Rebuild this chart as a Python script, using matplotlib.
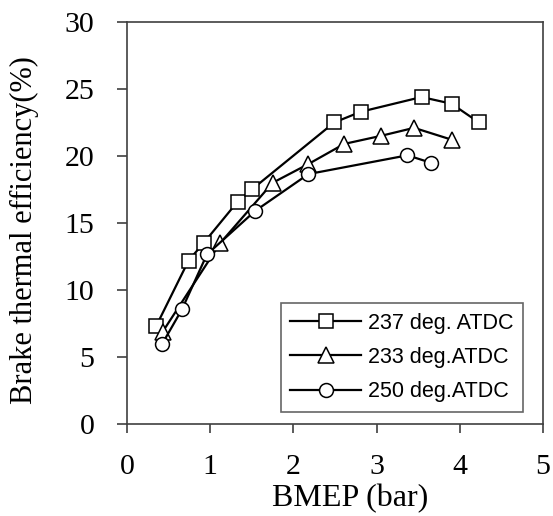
import matplotlib
matplotlib.use("Agg")
import matplotlib.pyplot as plt

# Data
x_237 = [0.35, 0.74, 0.92, 1.33, 1.50, 2.49, 2.81, 3.54, 3.90, 4.23]
y_237 = [7.3, 12.2, 13.5, 16.6, 17.5, 22.5, 23.3, 24.4, 23.9, 22.5]

x_233 = [0.43, 1.12, 1.75, 2.18, 2.61, 3.05, 3.45, 3.91]
y_233 = [6.9, 13.5, 18.0, 19.4, 20.9, 21.5, 22.1, 21.2]

x_250 = [0.42, 0.66, 0.96, 1.54, 2.18, 3.37, 3.65]
y_250 = [5.95, 8.55, 12.65, 15.9, 18.65, 20.05, 19.5]

labels = ["237 deg. ATDC", "233 deg.ATDC", "250 deg.ATDC"]
x_ticks = [0, 1, 2, 3, 4, 5]
y_ticks = [0, 5, 10, 15, 20, 25, 30]

fig = plt.figure(figsize=(5.53, 5.16), dpi=100)
ax = fig.add_axes([0.2297, 0.1783, 0.7523, 0.7791])

serif = ["Liberation Serif", "DejaVu Serif"]
sans = ["Liberation Sans", "DejaVu Sans"]

common = dict(color="black", lw=1.6, markerfacecolor="white",
              markeredgecolor="black", markeredgewidth=1.1)
ax.plot(x_237, y_237, marker="s", markersize=10, label=labels[0], **common)
ax.plot(x_233, y_233, marker="^", markersize=11, label=labels[1], **common)
ax.plot(x_250, y_250, marker="o", markersize=10, label=labels[2], **common)

ax.set_xlim(0, 5)
ax.set_ylim(0, 30)
ax.set_xticks(x_ticks)
ax.set_yticks(y_ticks)
ax.set_xticklabels([str(v) for v in x_ticks], fontfamily=serif, fontsize=21.5)
ax.set_yticklabels([str(v) for v in y_ticks], fontfamily=serif, fontsize=21.5)
ax.tick_params(axis="y", direction="out", length=7.5, width=1.2, color="#404040", pad=16)
ax.tick_params(axis="x", direction="out", length=6.5, width=1.2, color="#404040", pad=15)

for s in ax.spines.values():
    s.set_color("#404040")
    s.set_linewidth(1.2)

ax.set_xlabel("BMEP (bar)", fontfamily=serif, fontsize=23)
ax.xaxis.set_label_coords(0.537, -0.15)
ax.set_ylabel("Brake thermal efficiency(%)", fontfamily=serif, fontsize=22)
ax.yaxis.set_label_coords(-0.212, 0.483)

leg = ax.legend(loc="lower right", bbox_to_anchor=(0.952, 0.030),
                prop={"family": sans, "size": 15.5}, frameon=True,
                fancybox=False, handlelength=3.3, labelspacing=0.62,
                borderpad=0.45, handletextpad=0.3, borderaxespad=0)
leg.get_frame().set_edgecolor("#404040")
leg.get_frame().set_linewidth(1.2)

fig.savefig("out.png", dpi=100)
